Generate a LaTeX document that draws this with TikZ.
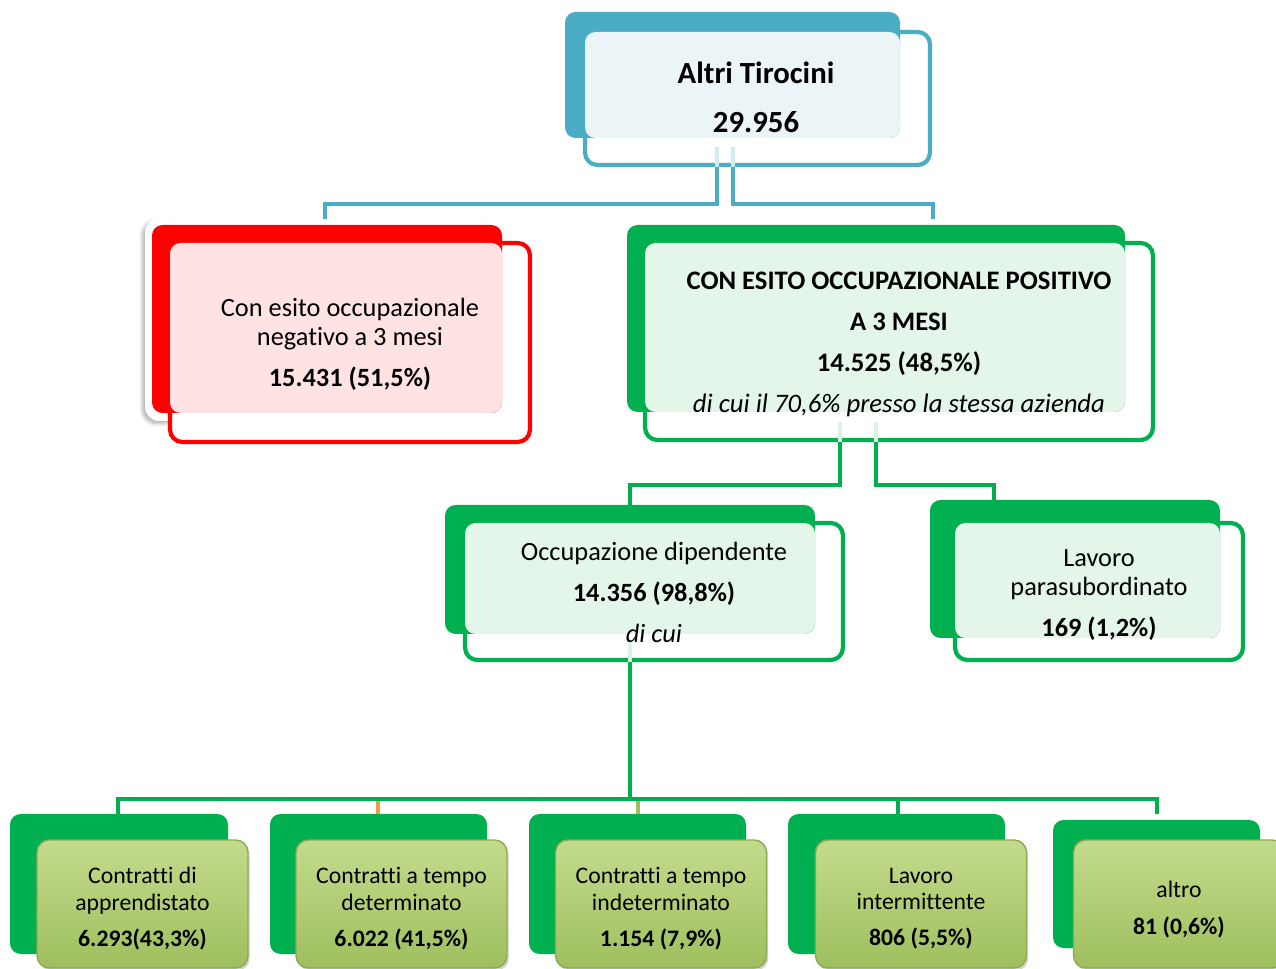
\documentclass[tikz,border=0pt]{standalone}
\usepackage{fontspec}
\setmainfont{Carlito}[Ligatures=NoCommon]
\usetikzlibrary{calc,shadows,shadows.blur}
\definecolor{tealc}{HTML}{4BACC6}
\definecolor{teallight}{HTML}{EBF5F8}
\definecolor{redc}{HTML}{FF0000}
\definecolor{redlight}{HTML}{FFE3E3}
\definecolor{greenc}{HTML}{00B050}
\definecolor{greenlight}{HTML}{E4F5EA}
\definecolor{olivetop}{HTML}{C3DB8C}
\definecolor{olivebot}{HTML}{9FBF5E}
\definecolor{oliveline}{HTML}{8CAA52}
\definecolor{orangec}{HTML}{F79646}
\begin{document}
\begin{tikzpicture}[x=0.02cm,y=-0.02cm,
  frontbox/.style={draw,fill=white,line width=2.4pt,rounded corners=7pt,inner sep=0pt},
  backbox/.style={rounded corners=6pt},
  lightbox/.style={rounded corners=6pt},
  boxtext/.style={align=center,font=\fontsize{15}{16.4}\selectfont},
  cbox/.style={draw=oliveline,line width=0.8pt,top color=olivetop,bottom color=olivebot,
    rounded corners=7pt,inner sep=0pt,minimum width=4.22cm,minimum height=2.56cm,
    drop shadow={shadow xshift=1pt,shadow yshift=-1.5pt,opacity=0.35}},
  ctext/.style={align=center,font=\fontsize{13.5}{15.3}\selectfont},
  link/.style={line width=2.4pt}]
\useasboundingbox (0,0) rectangle (1276,969);

\node[frontbox,draw=tealc,minimum width=6.9cm,minimum height=2.66cm] (top) at (757.5,98.5) {};
\fill[backbox,tealc] (565,12) rectangle (900,138);
\fill[lightbox,teallight] (585,32) rectangle (900,138);
\node[boxtext,font=\fontsize{17.5}{27.8}\selectfont\bfseries] (toptxt) at (756,97) {Altri Tirocini\\29.956};

\fill[white,rounded corners=8pt,blur shadow={shadow xshift=-1.5pt,shadow yshift=-1.5pt,shadow opacity=30,shadow blur steps=6}] (145,218) rectangle (508,421);
\node[frontbox,draw=redc,minimum width=7.2cm,minimum height=3.98cm] (neg) at (350,342.5) {};
\fill[backbox,redc] (152,225) rectangle (502,413);
\fill[lightbox,redlight] (170,243) rectangle (502,413);
\node[boxtext] (negtxt) at (350,344.5) {Con esito occupazionale\\negativo a 3 mesi\\[6.8pt]\textbf{15.431 (51,5\%)}};

\node[frontbox,draw=greenc,minimum width=10.16cm,minimum height=3.94cm] (pos) at (899,341.5) {};
\fill[backbox,greenc] (627,225) rectangle (1125,412);
\fill[lightbox,greenlight] (645,243) rectangle (1125,412);
\node[boxtext,font=\fontsize{15.2}{23.2}\selectfont] (postxt) at (899,344.5) {\textbf{CON ESITO OCCUPAZIONALE POSITIVO}\\\textbf{A 3 MESI}\\\textbf{14.525 (48,5\%)}\\\textit{di cui il 70,6\% presso la stessa azienda}};

\node[frontbox,draw=greenc,minimum width=7.56cm,minimum height=2.74cm] (dip) at (654,591.5) {};
\fill[backbox,greenc] (445,505) rectangle (815,634);
\fill[lightbox,greenlight] (465,523) rectangle (815,634);
\node[boxtext,font=\fontsize{15}{23.2}\selectfont] (diptxt) at (654,592.5) {Occupazione dipendente\\\textbf{14.356 (98,8\%)}\\\textit{di cui}};

\node[frontbox,draw=greenc,minimum width=5.76cm,minimum height=2.74cm] (para) at (1099,591.5) {};
\fill[backbox,greenc] (930,500) rectangle (1220,638);
\fill[lightbox,greenlight] (955,523) rectangle (1220,638);
\node[boxtext] (paratxt) at (1099,595) {Lavoro\\parasubordinato\\[6.8pt]\textbf{169 (1,2\%)}};

\foreach \a/\b in {10/228,270/487,529/746,788/1005}
  \fill[backbox,greenc] (\a,814) rectangle (\b,954);
\fill[backbox,greenc] (1053,820) rectangle (1260,948);
\node[cbox] (appr) at (142.5,904) {};
\node[cbox] (det) at (401.5,904) {};
\node[cbox] (indet) at (661,904) {};
\node[cbox] (inter) at (921,904) {};
\node[cbox] (altro) at (1179,904) {};
\node[ctext] (apprtxt) at (142.5,908.5) {Contratti di\\apprendistato\\[5pt]\textbf{6.293(43,3\%)}};
\node[ctext] (dettxt) at (401.5,908.5) {Contratti a tempo\\determinato\\[5pt]\textbf{6.022 (41,5\%)}};
\node[ctext] (indettxt) at (661,908.5) {Contratti a tempo\\indeterminato\\[5pt]\textbf{1.154 (7,9\%)}};
\node[ctext] (intertxt) at (921,908.5) {Lavoro\\intermittente\\[5pt]\textbf{806 (5,5\%)}};
\node[ctext] (altrotxt) at (1179,909.5) {altro\\[5.7pt]\textbf{81 (0,6\%)}};

\coordinate (negin) at (325,219);
\coordinate (posin) at (933,219);
\coordinate (dipin) at (630,505);
\coordinate (parain) at (994,500);
\coordinate (apprin) at (118,814);
\coordinate (detin) at (378,814);
\coordinate (indetin) at (638,814);
\coordinate (interin) at (898,814);
\coordinate (altroin) at (1157,814);
\draw[link,tealc!25] ($(top.south)+(-40.5,-20)$) -- ++(0,20);
\draw[link,tealc!25] ($(top.south)+(-24.5,-20)$) -- ++(0,20);
\draw[link,tealc] ($(top.south)+(-40.5,0)$) -- ++(0,37) -| (negin);
\draw[link,tealc] ($(top.south)+(-24.5,0)$) -- ++(0,37) -| (posin);
\draw[link,greenc!15] ($(pos.south)+(-59,-20)$) -- ++(0,20);
\draw[link,greenc!15] ($(pos.south)+(-23,-20)$) -- ++(0,20);
\draw[link,greenc] ($(pos.south)+(-59,0)$) -- ++(0,43) -| (dipin);
\draw[link,greenc] ($(pos.south)+(-23,0)$) -- ++(0,43) -| (parain);
\draw[link,greenc!15] ($(dip.south)+(-24,-20)$) -- ++(0,20);
\draw[link,greenc] ($(dip.south)+(-24,0)$) -- ++(0,137) coordinate (hub);
\draw[link,orangec] (detin) -- (detin |- hub);
\draw[link,olivebot] (indetin) -- (indetin |- hub);
\draw[link,greenc] (interin) -- (interin |- hub);
\draw[link,greenc] (apprin) |- (hub) -| (altroin);
\end{tikzpicture}
\end{document}
